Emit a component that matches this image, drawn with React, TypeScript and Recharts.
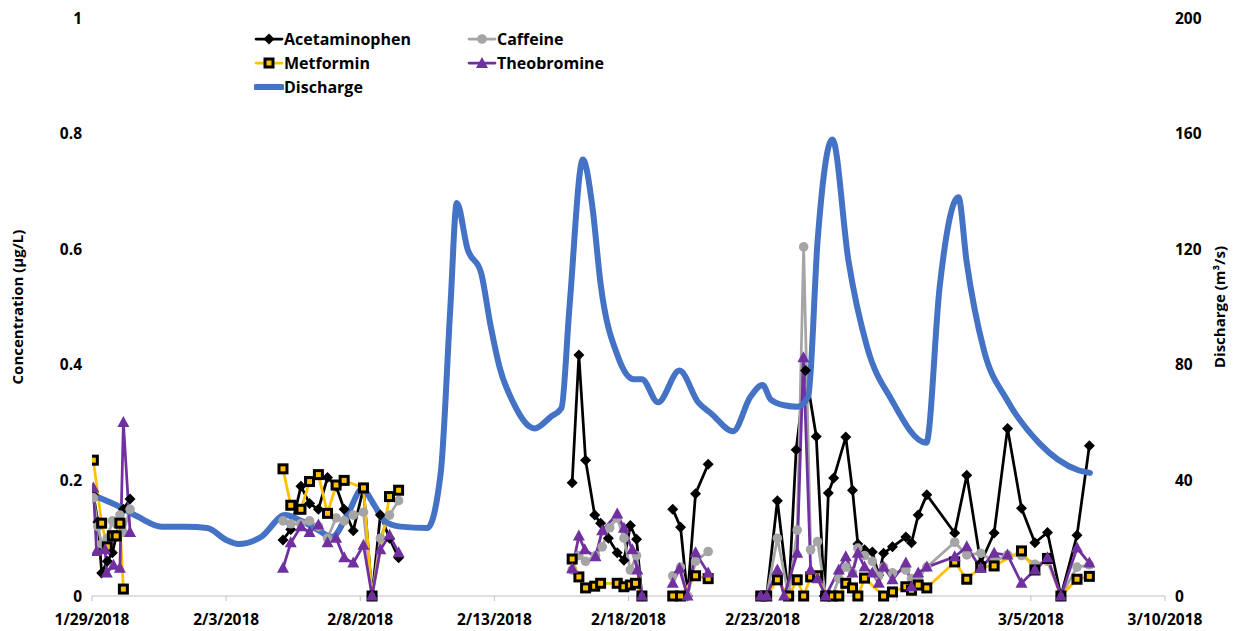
import { ComposedChart, Line, XAxis, YAxis } from 'recharts'

// x values are days since 1/29/2018
const startDay = Date.UTC(2018, 0, 29)
const dateTicks = [0, 5, 10, 15, 20, 25, 30, 35, 40]
const concentrationTicks = [0, 0.2, 0.4, 0.6, 0.8, 1]
const dischargeTicks = [0, 40, 80, 120, 160, 200]

type Pt = [number, number]

// each inner array is one sampling campaign, lines break between them
const acetaminophen: Pt[][] = [
  [[0.05, 0.175], [0.22, 0.128], [0.36, 0.04], [0.57, 0.06], [0.76, 0.075], [1.04, 0.13], [1.17, 0.15], [1.42, 0.168]],
  [[7.12, 0.097], [7.41, 0.115], [7.79, 0.19], [8.11, 0.16], [8.44, 0.15], [8.78, 0.205], [9.1, 0.19], [9.4, 0.15], [9.74, 0.113], [10.12, 0.187], [10.44, 0], [10.75, 0.14], [11.09, 0.1], [11.43, 0.066]],
  [[17.9, 0.196], [18.15, 0.417], [18.4, 0.235], [18.74, 0.14], [18.96, 0.126], [19.25, 0.1], [19.58, 0.075], [19.83, 0.062], [20.07, 0.122], [20.3, 0.098], [20.5, 0]],
  [[21.65, 0.15], [21.94, 0.119], [22.2, 0], [22.5, 0.177], [22.97, 0.228]],
  [[24.93, 0], [25.15, 0], [25.55, 0.165], [25.97, 0], [26.25, 0.253], [26.6, 0.39], [27.0, 0.276], [27.3, 0], [27.45, 0.178], [27.65, 0.204], [28.1, 0.275], [28.35, 0.183], [28.55, 0.09], [28.8, 0.08], [29.09, 0.076], [29.33, 0.036], [29.51, 0.074], [29.84, 0.085], [30.34, 0.102], [30.55, 0.092], [30.8, 0.14], [31.12, 0.175], [32.16, 0.109], [32.61, 0.209], [33.13, 0.057], [33.63, 0.109], [34.13, 0.29], [34.65, 0.152], [35.15, 0.092], [35.62, 0.11], [36.12, 0], [36.72, 0.105], [37.18, 0.26]],
]

const caffeine: Pt[][] = [
  [[0.05, 0.17], [0.22, 0.12], [0.36, 0.09], [0.57, 0.1], [0.76, 0.13], [0.9, 0.125], [1.04, 0.14], [1.17, 0.11], [1.42, 0.15]],
  [[7.12, 0.13], [7.41, 0.125], [7.79, 0.125], [8.11, 0.13], [8.44, 0.12], [8.78, 0.1], [9.1, 0.135], [9.4, 0.13], [9.74, 0.14], [10.12, 0.145], [10.44, 0], [10.75, 0.1], [11.09, 0.14], [11.43, 0.165]],
  [[17.9, 0.045], [18.15, 0.07], [18.4, 0.06], [18.77, 0.07], [19.02, 0.085], [19.3, 0.118], [19.58, 0.135], [19.83, 0.1], [20.07, 0.045], [20.3, 0.07], [20.5, 0]],
  [[21.65, 0.035], [21.94, 0.05], [22.2, 0], [22.5, 0.06], [22.97, 0.077]],
  [[24.93, 0], [25.15, 0], [25.55, 0.1], [25.97, 0], [26.29, 0.114], [26.53, 0.604], [26.79, 0.08], [27.05, 0.094], [27.35, 0], [27.6, 0], [27.84, 0.03], [28.1, 0.05], [28.35, 0.04], [28.55, 0.083], [28.8, 0.07], [29.09, 0.06], [29.33, 0.035], [29.51, 0.05], [29.84, 0.04], [30.34, 0.045], [30.55, 0.03], [30.8, 0.03], [31.12, 0.05], [32.16, 0.093], [32.61, 0.071], [33.13, 0.074], [33.63, 0.06], [34.13, 0.071], [34.65, 0.07], [35.15, 0.055], [35.62, 0.06], [36.12, 0], [36.72, 0.05], [37.18, 0.054]],
]

const metformin: Pt[][] = [
  [[0.05, 0.235], [0.36, 0.126], [0.57, 0.085], [0.76, 0.104], [0.9, 0.104], [1.04, 0.126], [1.17, 0.012]],
  [[7.12, 0.22], [7.41, 0.157], [7.79, 0.15], [8.11, 0.198], [8.44, 0.21], [8.78, 0.143], [9.1, 0.192], [9.4, 0.2], [10.12, 0.187], [10.44, 0], [11.09, 0.172], [11.43, 0.183]],
  [[17.9, 0.064], [18.15, 0.033], [18.4, 0.014], [18.74, 0.017], [18.96, 0.022], [19.58, 0.022], [19.83, 0.016], [20.07, 0.019], [20.26, 0.022], [20.5, 0]],
  [[21.65, 0], [21.94, 0], [22.5, 0.035], [22.97, 0.03]],
  [[24.93, 0], [25.15, 0], [25.55, 0.028], [25.97, 0], [26.29, 0.028], [26.53, 0], [26.79, 0.033], [27.05, 0.035], [27.35, 0], [27.6, 0], [27.84, 0], [28.1, 0.022], [28.35, 0.014], [28.55, 0], [28.8, 0.031], [29.51, 0], [29.84, 0.007], [30.34, 0.016], [30.55, 0.01], [30.8, 0.019], [31.12, 0.014], [32.16, 0.059], [32.61, 0.029], [33.13, 0.05], [33.63, 0.052], [34.65, 0.078], [35.15, 0.045], [35.62, 0.065], [36.12, 0], [36.72, 0.029], [37.18, 0.034]],
]

const theobromine: Pt[][] = [
  [[0.05, 0.187], [0.17, 0.077], [0.49, 0.08], [0.55, 0.04], [0.8, 0.053], [1.04, 0.048], [1.17, 0.3], [1.42, 0.11]],
  [[7.12, 0.048], [7.41, 0.092], [7.79, 0.12], [8.11, 0.11], [8.44, 0.123], [8.78, 0.092], [9.1, 0.1], [9.4, 0.066], [9.74, 0.057], [10.12, 0.088], [10.44, 0], [10.75, 0.08], [11.09, 0.105], [11.43, 0.075]],
  [[17.9, 0.047], [18.15, 0.104], [18.37, 0.08], [18.77, 0.068], [19.02, 0.113], [19.58, 0.142], [19.83, 0.117], [20.14, 0.08], [20.33, 0.045], [20.5, 0]],
  [[21.65, 0.022], [21.9, 0.047], [22.2, 0], [22.5, 0.075], [22.97, 0.04]],
  [[24.93, 0], [25.15, 0], [25.55, 0.045], [25.8, 0], [26.29, 0.074], [26.52, 0.412], [26.79, 0.045], [27.05, 0.03], [27.35, 0], [27.84, 0.045], [28.1, 0.068], [28.35, 0.04], [28.55, 0.074], [28.8, 0.05], [29.09, 0.04], [29.33, 0.022], [29.51, 0.05], [29.84, 0.028], [30.34, 0.057], [30.55, 0.016], [30.8, 0.04], [31.12, 0.05], [32.16, 0.068], [32.61, 0.085], [33.13, 0.048], [33.63, 0.074], [34.13, 0.071], [34.65, 0.022], [35.15, 0.045], [35.62, 0.066], [36.12, 0], [36.72, 0.083], [37.18, 0.057]],
]

const discharge: Pt[] = [
  [0, 35], [1.0, 31], [1.7, 27.5], [2.6, 24], [3.5, 24], [4.3, 23.5], [5.0, 19.4], [5.45, 18], [6.3, 20.4], [7.2, 28], [7.8, 26], [8.4, 23], [8.95, 20.4], [9.55, 28.7], [10.07, 37], [10.55, 31], [10.9, 26], [11.5, 24], [12.5, 23.5], [13.0, 42.6], [13.36, 100], [13.6, 136], [14.0, 120], [14.5, 112], [14.85, 94], [15.2, 79], [15.7, 67], [16.5, 58], [17.1, 62], [17.5, 65], [17.8, 100], [18.3, 151], [18.65, 135], [18.96, 108], [19.6, 83], [20.2, 75], [20.5, 75], [21.1, 67], [21.9, 78], [22.6, 67], [23.1, 63], [23.9, 57], [24.55, 69], [25.0, 73], [25.3, 68], [25.8, 66], [26.3, 65.5], [26.7, 69], [27.05, 123], [27.6, 158], [28.2, 116], [28.9, 86], [29.8, 68], [31.1, 53], [31.6, 107], [32.3, 138], [32.6, 116], [33.25, 85], [34.1, 68], [35.3, 53], [36.75, 43.6], [37.2, 42.6],
]

function toRows(groups: Pt[][]) {
  const rows: { day: number; v: number | null }[] = []
  groups.forEach((g, i) => {
    if (i > 0) {
      const prev = groups[i - 1]
      rows.push({ day: (prev[prev.length - 1][0] + g[0][0]) / 2, v: null })
    }
    g.forEach(([day, v]) => rows.push({ day, v }))
  })
  return rows
}

const dischargeRows = discharge.map(([day, q]) => ({ day, q }))

function fmtDate(d: number) {
  const dt = new Date(startDay + d * 86400000)
  return `${dt.getUTCMonth() + 1}/${dt.getUTCDate()}/${dt.getUTCFullYear()}`
}

const FONT = "'Open Sans', 'Liberation Sans', sans-serif"

const noDot = (p: any) => p.cx == null || p.cy == null || p.value == null

const diamondDot = (p: any) =>
  noDot(p) ? <g key={p.index} /> : (
    <polygon key={p.index} points={`${p.cx},${p.cy - 5.5} ${p.cx + 5.5},${p.cy} ${p.cx},${p.cy + 5.5} ${p.cx - 5.5},${p.cy}`} fill="#000" />
  )

const circleDot = (p: any) =>
  noDot(p) ? <g key={p.index} /> : <circle key={p.index} cx={p.cx} cy={p.cy} r={4.8} fill="#A5A5A5" />

const squareDot = (p: any) =>
  noDot(p) ? <g key={p.index} /> : (
    <rect key={p.index} x={p.cx - 4} y={p.cy - 4} width={8} height={8} fill="#FFC000" stroke="#000" strokeWidth={3} />
  )

const triangleDot = (p: any) =>
  noDot(p) ? <g key={p.index} /> : (
    <polygon key={p.index} points={`${p.cx},${p.cy - 6.5} ${p.cx + 6},${p.cy + 4.5} ${p.cx - 6},${p.cy + 4.5}`} fill="#7030A0" />
  )

function LegendMark({ color, kind }: { color: string; kind: string }) {
  return (
    <svg width={30} height={12} style={{ marginRight: 0 }}>
      <line x1={2} y1={6} x2={28} y2={6} stroke={color} strokeWidth={kind === 'line' ? 6 : 2.75} strokeLinecap="round" />
      {kind === 'diamond' && <polygon points="15,0.5 20.5,6 15,11.5 9.5,6" fill="#000" />}
      {kind === 'circle' && <circle cx={15} cy={6} r={4.8} fill="#A5A5A5" />}
      {kind === 'square' && <rect x={11} y={2} width={8} height={8} fill="#FFC000" stroke="#000" strokeWidth={3} />}
      {kind === 'triangle' && <polygon points="15,0 21,11 9,11" fill="#7030A0" />}
    </svg>
  )
}

const legendItems = [
  { name: 'Acetaminophen', color: '#000000', kind: 'diamond', left: 0, top: 0 },
  { name: 'Caffeine', color: '#A5A5A5', kind: 'circle', left: 213, top: 0 },
  { name: 'Metformin', color: '#FFC000', kind: 'square', left: 0, top: 24 },
  { name: 'Theobromine', color: '#7030A0', kind: 'triangle', left: 213, top: 24 },
  { name: 'Discharge', color: '#4472C4', kind: 'line', left: 0, top: 48 },
]

export default function App() {
  const tick = { fill: '#000', fontSize: 15.5, fontWeight: 700, fontFamily: FONT }
  const title = { textAnchor: 'middle', fontSize: 15, fontWeight: 700, fill: '#000', fontFamily: FONT }
  return (
    <div style={{ position: 'relative', width: 1228, height: 623, fontFamily: FONT, background: '#fff' }}>
      <ComposedChart width={1228} height={623} margin={{ top: 10, right: 0, bottom: 5, left: 0 }}>
        <XAxis
          dataKey="day"
          type="number"
          domain={[0, 40]}
          ticks={dateTicks}
          tickFormatter={fmtDate}
          allowDataOverflow
          height={30}
          tick={tick}
          tickSize={5}
          tickMargin={13}
          axisLine={{ stroke: '#BFBFBF' }}
          tickLine={{ stroke: '#BFBFBF' }}
        />
        <YAxis
          yAxisId="c"
          domain={[0, 1]}
          ticks={concentrationTicks}
          width={84}
          tick={tick}
          tickSize={0}
          tickMargin={10}
          axisLine={false}
          tickLine={false}
          label={{ value: 'Concentration (µg/L)', angle: -90, position: 'insideLeft', offset: 10, style: title }}
        />
        <YAxis
          yAxisId="q"
          orientation="right"
          domain={[0, 200]}
          ticks={dischargeTicks}
          width={71}
          tick={tick}
          tickSize={0}
          tickMargin={10}
          axisLine={false}
          tickLine={false}
          label={{ value: 'Discharge (m³/s)', angle: -90, position: 'insideRight', offset: 16, style: title }}
        />
        <Line yAxisId="c" data={toRows(acetaminophen)} dataKey="v" type="linear" stroke="#000000" strokeWidth={2.75} dot={diamondDot} isAnimationActive={false} />
        <Line yAxisId="c" data={toRows(caffeine)} dataKey="v" type="linear" stroke="#A5A5A5" strokeWidth={2.75} dot={circleDot} isAnimationActive={false} />
        <Line yAxisId="c" data={toRows(metformin)} dataKey="v" type="linear" stroke="#FFC000" strokeWidth={2.75} dot={squareDot} isAnimationActive={false} />
        <Line yAxisId="c" data={toRows(theobromine)} dataKey="v" type="linear" stroke="#7030A0" strokeWidth={2.75} dot={triangleDot} isAnimationActive={false} />
        <Line yAxisId="q" data={dischargeRows} dataKey="q" type="monotone" stroke="#4472C4" strokeWidth={6} strokeLinecap="round" dot={false} isAnimationActive={false} />
      </ComposedChart>
      <div style={{ position: 'absolute', left: 246, top: 20 }}>
        {legendItems.map((it) => (
          <div key={it.name} style={{ position: 'absolute', left: it.left, top: it.top, display: 'flex', alignItems: 'center', whiteSpace: 'nowrap', fontSize: 16, fontWeight: 700 }}>
            <LegendMark color={it.color} kind={it.kind} />
            <span>{it.name}</span>
          </div>
        ))}
      </div>
    </div>
  )
}
